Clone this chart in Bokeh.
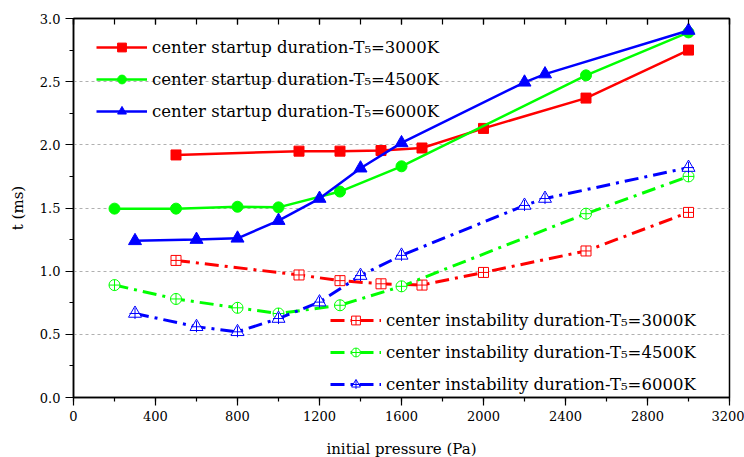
from bokeh.plotting import figure
from bokeh.models import (Range1d, LinearAxis, SingleIntervalTicker, NumeralTickFormatter,
                          Legend, LegendItem, CustomJSTickFormatter)
from bokeh.embed import file_html
from bokeh.resources import INLINE

# ---- data ----
p_red = [500, 1100, 1300, 1500, 1700, 2000, 2500, 3000]
p_green = [200, 500, 800, 1000, 1300, 1600, 2500, 3000]
p_blue = [300, 600, 800, 1000, 1200, 1400, 1600, 2200, 2300, 3000]

t_red_start = [1.92, 1.95, 1.95, 1.955, 1.975, 2.13, 2.37, 2.75]
t_green_start = [1.495, 1.495, 1.51, 1.505, 1.63, 1.83, 2.55, 2.89]
t_blue_start = [1.24, 1.25, 1.26, 1.40, 1.575, 1.815, 2.015, 2.495, 2.56, 2.905]

t_red_inst = [1.085, 0.97, 0.925, 0.90, 0.89, 0.99, 1.16, 1.465]
t_green_inst = [0.89, 0.78, 0.71, 0.665, 0.73, 0.88, 1.455, 1.75]
t_blue_inst = [0.665, 0.56, 0.52, 0.625, 0.755, 0.965, 1.125, 1.52, 1.575, 1.82]

labels_start = ["center startup duration-T\u2085=3000K",
                "center startup duration-T\u2085=4500K",
                "center startup duration-T\u2085=6000K"]
labels_inst = ["center instability duration-T\u2085=3000K",
               "center instability duration-T\u2085=4500K",
               "center instability duration-T\u2085=6000K"]

RED, GREEN, BLUE = "#ff0000", "#00ff00", "#0000ff"
FONT = "DejaVu Serif"
DASHDOT = "14 6 3 6"

p = figure(width=744, height=457, frame_width=656, frame_height=379,
           x_range=Range1d(0, 3200), y_range=Range1d(0, 3.0),
           output_backend="svg", toolbar_location=None,
           min_border_left=73, min_border_right=15, min_border_top=18, min_border_bottom=60,
           x_axis_label="initial pressure (Pa)", y_axis_label="t (ms)")
p.background_fill_color = "white"
p.border_fill_color = "white"
p.outline_line_color = "black"
p.outline_line_width = 1.5

# axes
xa = p.xaxis[0]
xa.ticker = SingleIntervalTicker(interval=400, num_minor_ticks=2)
ya = p.yaxis[0]
ya.ticker = SingleIntervalTicker(interval=0.5, num_minor_ticks=2)
ya.formatter = NumeralTickFormatter(format="0.0")
for ax in (xa, ya):
    ax.axis_line_color = "black"
    ax.axis_line_width = 1.5
    ax.major_tick_line_color = "black"
    ax.minor_tick_line_color = "black"
    ax.major_tick_line_width = 1.2
    ax.minor_tick_line_width = 1.2
    ax.major_tick_in = 0
    ax.major_tick_out = 8
    ax.minor_tick_in = 0
    ax.minor_tick_out = 4
    ax.major_label_text_font = FONT
    ax.major_label_text_font_size = "13px"
    ax.major_label_text_color = "black"
    ax.axis_label_text_font = FONT
    ax.axis_label_text_font_size = "15px"
    ax.axis_label_text_font_style = "normal"
    ax.axis_label_text_color = "black"
xa.major_label_standoff = 5
xa.axis_label_standoff = 16
ya.major_label_standoff = 5
ya.axis_label_standoff = 10

top = LinearAxis(ticker=SingleIntervalTicker(interval=400, num_minor_ticks=2),
                 formatter=CustomJSTickFormatter(code="return ''"),
                 major_tick_in=6, major_tick_out=0, minor_tick_in=6, minor_tick_out=0,
                 axis_line_color="black",
                 major_tick_line_color="black", minor_tick_line_color="black",
                 major_tick_line_width=1.2, minor_tick_line_width=1.2, axis_line_width=1.5,
                 major_label_standoff=0)
p.add_layout(top, "above")

p.xgrid.visible = False
p.ygrid.grid_line_color = "#b0b0b0"
p.ygrid.grid_line_dash = "3 3"
p.ygrid.grid_line_width = 1

# startup (solid)
l1 = p.line(p_red, t_red_start, line_color=RED, line_width=2.5)
m1 = p.scatter(p_red, t_red_start, marker="square", size=10, fill_color=RED, line_color=RED)
l2 = p.line(p_green, t_green_start, line_color=GREEN, line_width=2.5)
m2 = p.scatter(p_green, t_green_start, marker="circle", size=11, fill_color=GREEN, line_color=GREEN)
l3 = p.line(p_blue, t_blue_start, line_color=BLUE, line_width=2.5)
m3 = p.scatter(p_blue, t_blue_start, marker="triangle", size=13, fill_color=BLUE, line_color=BLUE)

# instability (dash-dot)
l4 = p.line(p_red, t_red_inst, line_color=RED, line_width=3, line_dash=DASHDOT)
m4 = p.scatter(p_red, t_red_inst, marker="square_cross", size=10, fill_color="white",
               line_color=RED, line_width=1)
l5 = p.line(p_green, t_green_inst, line_color=GREEN, line_width=3, line_dash=DASHDOT)
m5 = p.scatter(p_green, t_green_inst, marker="circle_cross", size=11, fill_color="white",
               line_color=GREEN, line_width=1)
l6 = p.line(p_blue, t_blue_inst, line_color=BLUE, line_width=3, line_dash=DASHDOT)
m6 = p.scatter(p_blue, t_blue_inst, marker="triangle", size=13, fill_color="white",
               line_color=BLUE, line_width=1)
m6c = p.scatter(p_blue, t_blue_inst, marker="cross", size=11, line_color=BLUE, line_width=1)

def make_legend(items, loc):
    lg = Legend(items=items, location=loc, orientation="vertical",
                label_text_font=FONT, label_text_font_size="16.5px", label_text_color="black",
                glyph_width=51, glyph_height=22, label_height=22, spacing=10,
                label_standoff=5, padding=0, margin=0,
                border_line_alpha=0, background_fill_alpha=0)
    return lg

leg1 = make_legend([LegendItem(label=labels_start[0], renderers=[l1, m1]),
                    LegendItem(label=labels_start[1], renderers=[l2, m2]),
                    LegendItem(label=labels_start[2], renderers=[l3, m3])], (23, 275))
leg2 = make_legend([LegendItem(label=labels_inst[0], renderers=[l4, m4]),
                    LegendItem(label=labels_inst[1], renderers=[l5, m5]),
                    LegendItem(label=labels_inst[2], renderers=[l6, m6, m6c])], (257, 2))
p.add_layout(leg1, "center")
p.add_layout(leg2, "center")

open("out.html", "w").write(file_html(p, INLINE))
